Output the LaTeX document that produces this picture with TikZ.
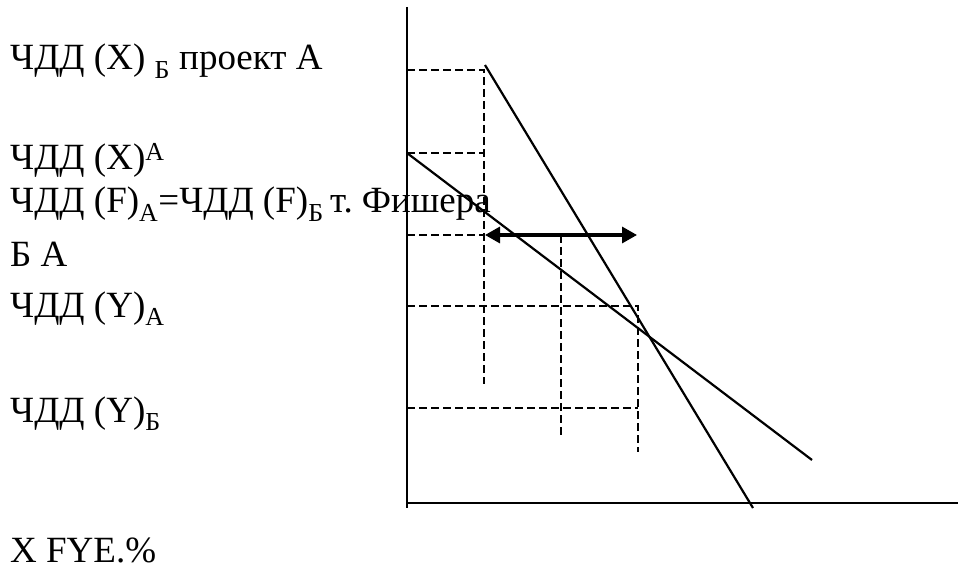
\documentclass[tikz,border=0pt]{standalone}
\usepackage{fontspec}
\setmainfont{Liberation Serif}
\usetikzlibrary{arrows.meta, positioning}
\frenchspacing
\tikzstyle{axisline} = [line width=2.2pt]
\tikzstyle{guide} = [line width=2.2pt, dash pattern=on 8pt off 4pt]
\tikzstyle{npv} = [line width=2.2pt]
\tikzstyle{arrow} = [line width=3.2pt, {Triangle[length=15pt,width=16pt]}-{Triangle[length=15pt,width=16pt]}]
\tikzstyle{txt} = [anchor=base west, inner sep=0pt, font=\fontsize{37}{42}\selectfont]

\begin{document}
\begin{tikzpicture}[x=1pt, y=-1pt]
    \useasboundingbox (0,0) rectangle (958,569);

    % Axes
    \coordinate (top) at (407,7);
    \coordinate (bottom) at (407,508);
    \coordinate (origin) at (407,503);
    \coordinate (right) at (958,503);
    \draw [axisline] (top) -- (bottom);
    \draw [axisline] (origin) -- (right);

    % Project lines
    \coordinate (bstart) at (485,65);
    \coordinate (bend) at (753,508);
    \coordinate (astart) at (407,153);
    \coordinate (aend) at (812,460);
    \draw [npv] (bstart) -- (bend);
    \draw [npv] (astart) -- (aend);

    % Guide lines
    \coordinate (xb) at (407,70);
    \coordinate (xa) at (407,153);
    \coordinate (fy) at (407,235);
    \coordinate (ya) at (407,306);
    \coordinate (yb) at (407,408);
    \coordinate (x1) at (484,70);
    \coordinate (x1low) at (484,384);
    \coordinate (f1) at (561,235);
    \coordinate (f1low) at (561,437);
    \coordinate (y1) at (638,306);
    \coordinate (y1low) at (638,452);
    \draw [guide] (xb) -- (x1) -- (x1low);
    \draw [guide] (xa) -- (xa -| x1);
    \draw [guide] (fy) -- (fy -| x1);
    \draw [guide] (f1) -- (f1low);
    \draw [guide] (ya) -- (y1) -- (y1low);
    \draw [guide] (yb) -- (yb -| y1);

    % Fisher range
    \coordinate (fleft) at (485,235);
    \coordinate (fright) at (637,235);
    \draw [arrow] (fleft) -- (fright);

    % Labels
    \node (lxb) [txt] at (10,70) {ЧДД (X) \textsubscript{Б} проект А};
    \node (lxa) [txt] at (10,170) {ЧДД (X)\textsuperscript{А}};
    \node (lfisher) [txt] at (10,213) {ЧДД (F)\textsubscript{А}=ЧДД (F)\textsubscript{Б\ }т. Фишера};
    \node (lba) [txt] at (10,267) {Б А};
    \node (lya) [txt] at (10,317) {ЧДД (Y)\textsubscript{А}};
    \node (lyb) [txt] at (10,422) {ЧДД (Y)\textsubscript{Б}};
    \node (lrates) [txt] at (10,562) {X FYE.\%};
\end{tikzpicture}
\end{document}
